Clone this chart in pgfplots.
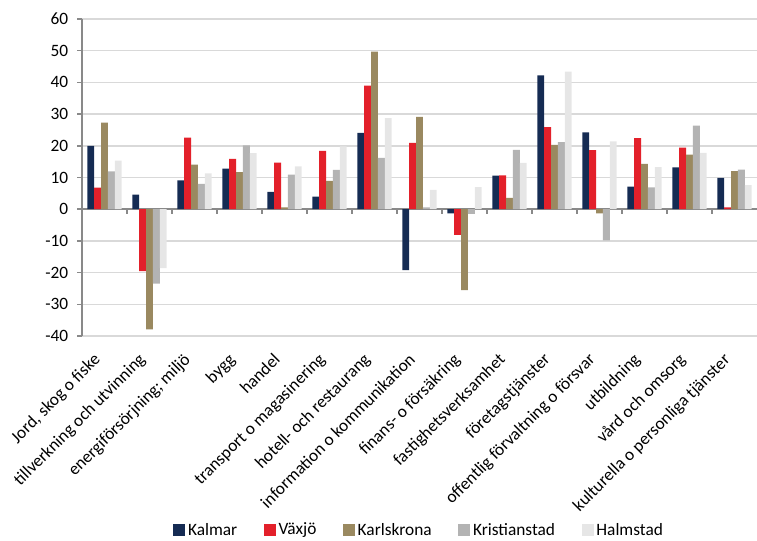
\documentclass[border=0pt]{standalone}
\usepackage{pgfplots}
\pgfplotsset{compat=1.18}
\usepackage{pgfplotstable}
\usepackage{fontspec}
\setmainfont{Carlito}

\definecolor{kalmar}{HTML}{152B53}
\definecolor{vaxjo}{HTML}{E3202A}
\definecolor{karlskrona}{HTML}{9A8960}
\definecolor{kristianstad}{HTML}{B3B3B3}
\definecolor{halmstad}{HTML}{E6E6E6}
\definecolor{gridgray}{HTML}{D9D9D9}
\definecolor{axisgray}{HTML}{898989}

% procentuell förändring per bransch
\pgfplotstableread{
idx kalmar vaxjo karlskrona kristianstad halmstad
0   20.0   6.8   27.3  11.9  15.3
1    4.6 -19.5  -37.9 -23.5 -18.6
2    9.1  22.6   14.1   8.0  11.3
3   12.8  15.9   11.7  20.1  17.7
4    5.5  14.7    0.6  10.9  13.5
5    4.0  18.4    8.9  12.4  19.8
6   24.1  39.0   49.7  16.2  28.7
7  -19.2  20.9   29.1   0.6   6.1
8   -1.3  -8.1  -25.5  -1.5   7.0
9   10.6  10.7    3.6  18.7  14.6
10  42.2  25.9   20.3  21.2  43.4
11  24.2  18.6   -1.3  -9.8  21.4
12   7.1  22.4   14.3   6.9  13.3
13  13.2  19.4   17.2  26.4  17.8
14   9.9   0.6   12.0  12.5   7.6
}\data

\begin{document}
\begin{tikzpicture}
\useasboundingbox (-61.5pt,-153pt) rectangle (506.25pt,252pt);
\begin{axis}[
    at={(0,0)}, anchor=south west,
    scale only axis,
    width=506.25pt, height=237.75pt,
    xmin=-0.5, xmax=14.5,
    ymin=-40, ymax=60,
    enlargelimits=false,
    axis x line=middle, axis y line=left,
    axis line style={-, color=axisgray, line width=1.1pt},
    ytick={-40,-30,...,60},
    xtick={0,...,14},
    minor xtick={0.5,1.5,...,13.5},
    xticklabels={{Jord, skog o fiske}, tillverkning och utvinning, energiförsörjning; miljö, bygg, handel, transport o magasinering, hotell- och restaurang, information o kommunikation, finans- o försäkring, fastighetsverksamhet, företagstjänster, offentlig förvaltning o försvar, utbildning, vård och omsorg, kulturella o personliga tjänster},
    tick align=outside,
    major x tick style={draw=none},
    minor x tick style={color=axisgray, line width=1.1pt},
    y tick style={color=axisgray, line width=1.1pt},
    major tick length=3.5pt, minor tick length=3.5pt,
    ymajorgrids,
    grid style={color=gridgray, line width=1.1pt},
    /pgf/number format/assume math mode=true,
    tick label style={font=\fontsize{13}{15}\selectfont},
    yticklabel style={xshift=-3.3pt},
    xticklabel style={yshift=-102pt, xshift=-9pt, rotate=45, anchor=north east, inner sep=1pt},
    legend style={at={(0.5,-0.612)}, anchor=center, draw=none, legend columns=-1,
        font=\fontsize{13}{15}\selectfont,
        /tikz/every even column/.append style={column sep=18pt}},
    sq/.style={legend image code/.code={\fill[##1] (0pt,-4.5pt) rectangle (9pt,4.5pt);}},
]
\addplot[ybar, bar width=0.153, bar shift=-0.306, fill=kalmar, draw=none, sq] table[x=idx, y=kalmar] {\data};
\addplot[ybar, bar width=0.153, bar shift=-0.153, fill=vaxjo, draw=none, sq] table[x=idx, y=vaxjo] {\data};
\addplot[ybar, bar width=0.153, bar shift=0, fill=karlskrona, draw=none, sq] table[x=idx, y=karlskrona] {\data};
\addplot[ybar, bar width=0.153, bar shift=0.153, fill=kristianstad, draw=none, sq] table[x=idx, y=kristianstad] {\data};
\addplot[ybar, bar width=0.153, bar shift=0.306, fill=halmstad, draw=none, sq] table[x=idx, y=halmstad] {\data};
\legend{Kalmar, Växjö, Karlskrona, Kristianstad, Halmstad}
\end{axis}
\end{tikzpicture}
\end{document}
